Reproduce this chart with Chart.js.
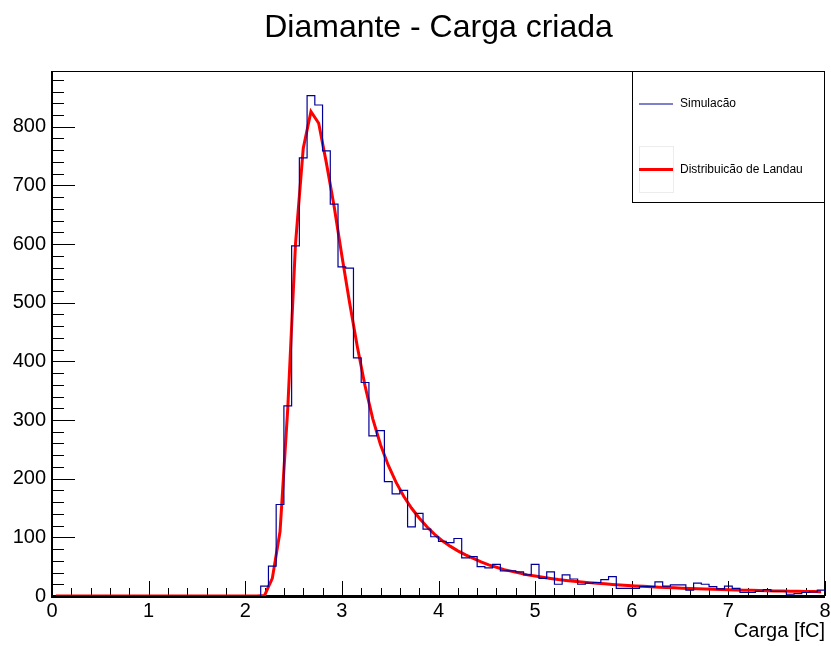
<!DOCTYPE html>
<html>
<head>
<meta charset="utf-8">
<title>Diamante - Carga criada</title>
<script src="https://cdn.jsdelivr.net/npm/chart.js"></script>
<style>
  body { margin: 0; background: #fff; }
  canvas { display: block; }
</style>
</head>
<body>
<canvas id="chargeChart" width="831" height="646"></canvas>
<script>
// --- Histogram binning (100 bins from 0 to 8 fC) ---
const binStart = 0;
const binWidth = 0.08;

// counts per bin
const simCounts = [
  0, 0, 0, 0, 0, 0, 0, 0, 0, 0,
  0, 0, 0, 0, 0, 0, 0, 0, 0, 0,
  0, 0, 0, 0, 0, 0, 0, 17, 51, 156,
  324, 597, 747, 853, 837, 759, 668, 561, 559, 406,
  364, 273, 282, 195, 174, 180, 118, 141, 114, 101,
  93, 91, 98, 65, 67, 50, 48, 54, 43, 43,
  41, 36, 54, 30, 41, 20, 36, 29, 20, 22,
  23, 28, 33, 13, 13, 13, 16, 16, 24, 17,
  19, 19, 10, 22, 20, 16, 12, 17, 13, 6,
  6, 8, 11, 8, 8, 3, 4, 6, 7, 10
];

// Landau fit evaluated at bin centres
const landauFit = [
  0, 0, 0, 0, 0, 0, 0, 0, 0, 0,
  0, 0, 0, 0, 0, 0, 0, 0, 0, 0,
  0, 0, 0, 0, 0, 0, 0, 1, 30, 110,
  320, 600, 763, 826, 806, 738, 664, 580, 500, 425,
  358, 302, 258, 223, 194, 170, 150, 133, 118, 105,
  94, 85, 77, 70, 64, 58, 53, 49, 45, 42,
  39, 36, 34, 32, 30, 28, 26.5, 25, 24, 22.8,
  21.7, 20.7, 19.7, 18.8, 18, 17.2, 16.5, 15.8, 15.1, 14.5,
  13.9, 13.4, 12.9, 12.4, 11.9, 11.5, 11.1, 10.7, 10.3, 10,
  9.6, 9.3, 9, 8.7, 8.4, 8.2, 7.9, 7.7, 7.5, 7.3
];

const xTicks = [0, 1, 2, 3, 4, 5, 6, 7, 8];
const yTicks = [0, 100, 200, 300, 400, 500, 600, 700, 800];
const xMinorStep = 0.2;
const yMinorStep = 20;
const yMax = 895;

const chartTitle = "Diamante - Carga criada";
const FONT = "'Liberation Sans', Arial, Helvetica, sans-serif";

// --- Build points for the library ---
const histPoints = simCounts.map((c, i) => ({ x: binStart + i * binWidth, y: c }));
histPoints.push({ x: binStart + simCounts.length * binWidth, y: simCounts[simCounts.length - 1] });

const fitPoints = landauFit.map((v, i) => ({ x: binStart + (i + 0.5) * binWidth, y: v }));

// --- Title centred over the frame (like ROOT) ---
const padTitle = {
  id: "padTitle",
  afterDraw(chart) {
    const { ctx, chartArea: a } = chart;
    ctx.save();
    ctx.fillStyle = "#000";
    ctx.font = "32px " + FONT;
    ctx.textAlign = "center";
    ctx.textBaseline = "alphabetic";
    ctx.fillText(chartTitle, (a.left + a.right) / 2, 37);
    ctx.restore();
  }
};

// --- Frame + ROOT style inward ticks ---
const frameTicks = {
  id: "frameTicks",
  beforeDatasetsDraw(chart) {
    const { ctx, chartArea: a, scales: { x, y } } = chart;
    ctx.save();
    ctx.strokeStyle = "#000";
    ctx.lineWidth = 1;
    ctx.strokeRect(a.left + 0.5, a.top + 0.5, a.right - a.left - 1, a.bottom - a.top - 1);

    // y ticks
    for (let v = 0; v <= yMax; v += yMinorStep) {
      const py = Math.round(y.getPixelForValue(v)) + 0.5;
      const len = yTicks.includes(v) ? 23 : 12;
      ctx.beginPath();
      ctx.moveTo(a.left, py);
      ctx.lineTo(a.left + len, py);
      ctx.stroke();
    }
    // x ticks
    const nMinor = Math.round((xTicks[xTicks.length - 1] - xTicks[0]) / xMinorStep);
    for (let k = 0; k <= nMinor; k++) {
      const v = xTicks[0] + k * xMinorStep;
      const px = Math.round(x.getPixelForValue(v)) + 0.5;
      const len = k % 5 === 0 ? 15 : 8;
      ctx.beginPath();
      ctx.moveTo(px, a.bottom);
      ctx.lineTo(px, a.bottom - len);
      ctx.stroke();
    }

    // thicker axis lines
    ctx.lineWidth = 2;
    ctx.beginPath();
    ctx.moveTo(a.left, a.top);
    ctx.lineTo(a.left, a.bottom + 1);
    ctx.lineTo(a.right, a.bottom + 1);
    ctx.stroke();
    ctx.restore();
  }
};

// --- Legend box (top right, inside the frame) ---
const rootLegend = {
  id: "rootLegend",
  afterDraw(chart) {
    const { ctx, chartArea: a } = chart;
    const w = 193, h = 131;
    const left = a.right - w, top = a.top;
    ctx.save();
    ctx.fillStyle = "#fff";
    ctx.fillRect(left, top, w, h);
    ctx.strokeStyle = "#000";
    ctx.lineWidth = 1;
    ctx.strokeRect(left + 0.5, top + 0.5, w - 1, h);

    // faint box around function entry
    ctx.strokeStyle = "#ececec";
    ctx.strokeRect(left + 7.5, top + 75.5, 34, 46);

    ctx.lineCap = "butt";
    ctx.strokeStyle = "#000099";
    ctx.lineWidth = 1.2;
    ctx.beginPath();
    ctx.moveTo(left + 7, top + 33);
    ctx.lineTo(left + 41, top + 33);
    ctx.stroke();

    ctx.strokeStyle = "#ff0000";
    ctx.lineWidth = 3;
    ctx.beginPath();
    ctx.moveTo(left + 7, top + 98.5);
    ctx.lineTo(left + 41, top + 98.5);
    ctx.stroke();

    ctx.fillStyle = "#000";
    ctx.font = "12px " + FONT;
    ctx.textAlign = "left";
    ctx.textBaseline = "middle";
    ctx.fillText("Simulacão", left + 48, top + 33);
    ctx.fillText("Distribuicão de Landau", left + 48, top + 98.5);
    ctx.restore();
  }
};

document.addEventListener("DOMContentLoaded", () => {
  const ctx = document.getElementById("chargeChart");

  new Chart(ctx, {
    type: "line",
    data: {
      datasets: [
        {
          label: "Simulacão",
          data: histPoints,
          stepped: "before",
          borderColor: "#000099",
          borderWidth: 1.2,
          pointRadius: 0,
          fill: false
        },
        {
          label: "Distribuicão de Landau",
          data: fitPoints,
          borderColor: "#ff0000",
          borderWidth: 3,
          pointRadius: 0,
          tension: 0,
          fill: false
        }
      ]
    },
    options: {
      responsive: false,
      animation: false,
      layout: { padding: { left: 0, right: 6, top: 71, bottom: 0 } },
      plugins: {
        legend: { display: false },
        tooltip: { enabled: false },
        title: { display: false }
      },
      scales: {
        x: {
          type: "linear",
          min: 0,
          max: 8,
          grid: { display: false, drawTicks: false },
          border: { display: false },
          afterBuildTicks: s => { s.ticks = xTicks.map(v => ({ value: v })); },
          afterFit: s => { s.height = 50; s.paddingLeft = 0; s.paddingRight = 0; },
          ticks: {
            color: "#000",
            padding: 3,
            maxRotation: 0,
            font: { family: FONT, size: 20 }
          },
          title: {
            display: true,
            text: "Carga [fC]",
            align: "end",
            color: "#000",
            font: { family: FONT, size: 20 },
            padding: { top: 0, bottom: 3 }
          }
        },
        y: {
          type: "linear",
          min: 0,
          max: yMax,
          grid: { display: false, drawTicks: false },
          border: { display: false },
          afterBuildTicks: s => { s.ticks = yTicks.map(v => ({ value: v })); },
          afterFit: s => { s.width = 52; s.paddingTop = 0; s.paddingBottom = 0; },
          ticks: {
            color: "#000",
            padding: 6,
            font: { family: FONT, size: 20 }
          }
        }
      }
    },
    plugins: [frameTicks, rootLegend, padTitle]
  });
});
</script>
</body>
</html>
